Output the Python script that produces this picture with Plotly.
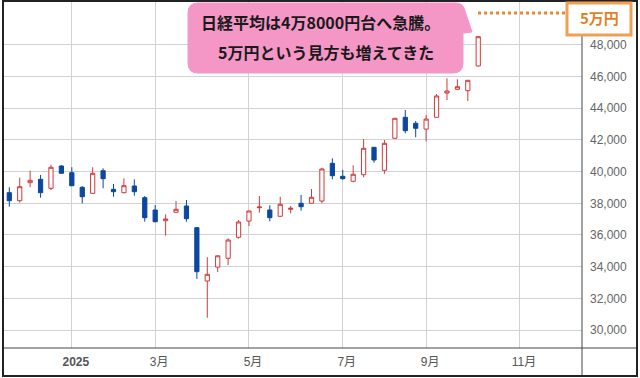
import plotly.graph_objects as go

# ---- data (weekly candles, Nikkei 225) ----
weeks = ["2024-11-25", "2024-12-02", "2024-12-09", "2024-12-16", "2024-12-23", "2024-12-30",
         "2025-01-06", "2025-01-13", "2025-01-20", "2025-01-27", "2025-02-03", "2025-02-10",
         "2025-02-17", "2025-02-24", "2025-03-03", "2025-03-10", "2025-03-17", "2025-03-24",
         "2025-03-31", "2025-04-07", "2025-04-14", "2025-04-21", "2025-04-28", "2025-05-05",
         "2025-05-12", "2025-05-19", "2025-05-26", "2025-06-02", "2025-06-09", "2025-06-16",
         "2025-06-23", "2025-06-30", "2025-07-07", "2025-07-14", "2025-07-21", "2025-07-28",
         "2025-08-04", "2025-08-11", "2025-08-18", "2025-08-25", "2025-09-01", "2025-09-08",
         "2025-09-15", "2025-09-22", "2025-09-29", "2025-10-06"]
open_ = [38670, 38164, 39300, 39514, 38946, 40354, 39931, 39010, 38631, 40057, 38883, 38670,
         39092, 38353, 37577, 36902, 37432, 37830, 36460, 33097, 33974, 34530, 35855, 36883,
         37722, 37577, 37180, 37621, 38000, 38000, 38145, 40524, 39704, 39388, 39805, 41534,
         40082, 42102, 43427, 43048, 42683, 43427, 44960, 45193, 45105, 46664]
high = [39010, 39615, 40057, 39786, 40436, 40417, 40272, 39080, 40272, 40209, 39218, 39577,
        39514, 38460, 37893, 37306, 38145, 38208, 36500, 34602, 34700, 35792, 36946, 37530,
        38460, 37874, 38416, 37830, 38524, 38902, 40246, 40839, 40108, 40400, 42057, 41550,
        41994, 43380, 43887, 43193, 43566, 44897, 45888, 45824, 45780, 48550]
low = [37785, 38040, 39010, 38353, 38839, 39893, 39080, 38000, 38600, 38946, 38416, 38631,
       38480, 36839, 36800, 35956, 37400, 36839, 33223, 30777, 33664, 34107, 35767, 36567,
       37407, 36864, 37150, 37369, 37533, 37970, 38000, 39514, 39489, 39325, 39640, 40562,
       39868, 42080, 42417, 42165, 41912, 43400, 44518, 45150, 44455, 46640]
close = [38164, 39048, 39451, 38670, 40272, 39893, 39111, 38416, 39893, 39552, 38732, 39111,
         38732, 37091, 36839, 37009, 37621, 37028, 33684, 33519, 34687, 35684, 36820, 37514,
         37767, 37091, 37937, 37684, 37785, 38379, 40165, 39742, 39552, 39830, 41470, 40732,
         41786, 43364, 42582, 42733, 43314, 44771, 45086, 45357, 45761, 48512]

tick_dates = ["2025-01-06", "2025-03-03", "2025-05-05", "2025-07-07", "2025-09-01", "2025-11-03"]
tick_labels = ["<b>2025</b>", "3月", "5月", "7月", "9月", "11月"]
y_ticks = [30000, 32000, 34000, 36000, 38000, 40000, 42000, 44000, 46000, 48000]
target_level = 50000

callout_line1 = "日経平均は4万8000円台へ急騰。"
callout_line2 = "5万円という見方も増えてきた"
target_label = "5万円"

# ---- layout geometry (pixels) ----
W, H = 640, 378
PL, PR, PT, PB = 3, 582, 2, 348


def px(x):
    return (x - PL) / (PR - PL)


def py(y):
    return (PB - y) / (PB - PT)


FONT = "Liberation Sans, Arial, Noto Sans CJK JP, sans-serif"
JFONT = "Noto Sans CJK JP, sans-serif"

fig = go.Figure(go.Candlestick(
    x=weeks, open=open_, high=high, low=low, close=close,
    increasing=dict(line=dict(color="#d23a3a", width=1), fillcolor="#ffffff"),
    decreasing=dict(line=dict(color="#0c479f", width=1), fillcolor="#0c479f"),
    whiskerwidth=0, hoverinfo="skip", showlegend=False,
))

fig.update_layout(
    width=W, height=H,
    margin=dict(l=PL, r=W - PR, t=PT, b=H - PB),
    paper_bgcolor="white", plot_bgcolor="white",
    boxgap=0.42,
    xaxis=dict(
        type="date",
        range=["2024-11-20 18:30", "2025-12-14 17:00"],
        rangeslider=dict(visible=False),
        tickvals=tick_dates, ticktext=tick_labels,
        showgrid=True, gridcolor="#d2d2d2", gridwidth=1,
        ticks="", showline=False, zeroline=False,
        tickfont=dict(family=FONT, size=12, color="#555555"),
        ticklabelshift=4,
        ticklabelstandoff=5,
    ),
    yaxis=dict(
        side="right",
        range=[28869, 50702],
        tickvals=y_ticks, tickformat=",",
        showgrid=True, gridcolor="#d2d2d2", gridwidth=1,
        ticks="", showline=False, zeroline=False,
        tickfont=dict(family=FONT, size=12, color="#666666"),
        ticklabelstandoff=7,
    ),
)

shapes = []
# axis lines
shapes.append(dict(type="line", xref="paper", yref="paper", x0=px(582), x1=px(582), y0=py(2), y1=py(376),
                   line=dict(color="#444444", width=1)))
shapes.append(dict(type="line", xref="paper", yref="paper", x0=px(3), x1=px(637), y0=py(348), y1=py(348),
                   line=dict(color="#444444", width=1)))
# outer frame
shapes.append(dict(type="rect", xref="paper", yref="paper", x0=px(3), x1=px(637), y0=py(1), y1=py(376),
                   line=dict(color="#222222", width=2), fillcolor="rgba(0,0,0,0)"))
# dotted target line at 50,000
shapes.append(dict(type="line", xref="paper", yref="y", x0=px(478), x1=px(566), y0=target_level, y1=target_level,
                   line=dict(color="#e8893a", width=3, dash="dot")))
# target label box
shapes.append(dict(type="rect", xref="paper", yref="paper", x0=px(567), x1=px(631), y0=py(3), y1=py(35),
                   line=dict(color="#f0a055", width=3), fillcolor="white"))

# pink callout path
pts = [("M", 198, 3), ("L", 455, 3), ("Q", 462, 3, 464, 8), ("L", 472, 32), ("L", 463, 33),
       ("L", 463, 63), ("Q", 463, 73, 453, 73), ("L", 198, 73), ("Q", 188, 73, 188, 63),
       ("L", 188, 13), ("Q", 188, 3, 198, 3)]
path = ""
for p in pts:
    cmd = p[0]
    coords = p[1:]
    seg = []
    for i in range(0, len(coords), 2):
        seg.append(f"{px(coords[i]):.5f},{py(coords[i + 1]):.5f}")
    path += cmd + " ".join(seg) + " "
path += "Z"
shapes.append(dict(type="path", xref="paper", yref="paper", path=path,
                   fillcolor="#f597c6", line=dict(color="#f597c6", width=1)))

fig.update_layout(shapes=shapes)

fig.add_annotation(xref="paper", yref="paper", x=px(320.5), y=py(22), text=f"<b>{callout_line1}</b>",
                   showarrow=False, font=dict(family=JFONT, size=16, color="#1a1a1a"),
                   xanchor="center", yanchor="middle")
fig.add_annotation(xref="paper", yref="paper", x=px(326.5), y=py(52), text=f"<b>{callout_line2}</b>",
                   showarrow=False, font=dict(family=JFONT, size=16, color="#1a1a1a"),
                   xanchor="center", yanchor="middle")
fig.add_annotation(xref="paper", yref="paper", x=px(599), y=py(18), text=f"<b>{target_label}</b>",
                   showarrow=False, font=dict(family=JFONT, size=15, color="#e47f25"),
                   xanchor="center", yanchor="middle")

fig.write_html("out.html")
